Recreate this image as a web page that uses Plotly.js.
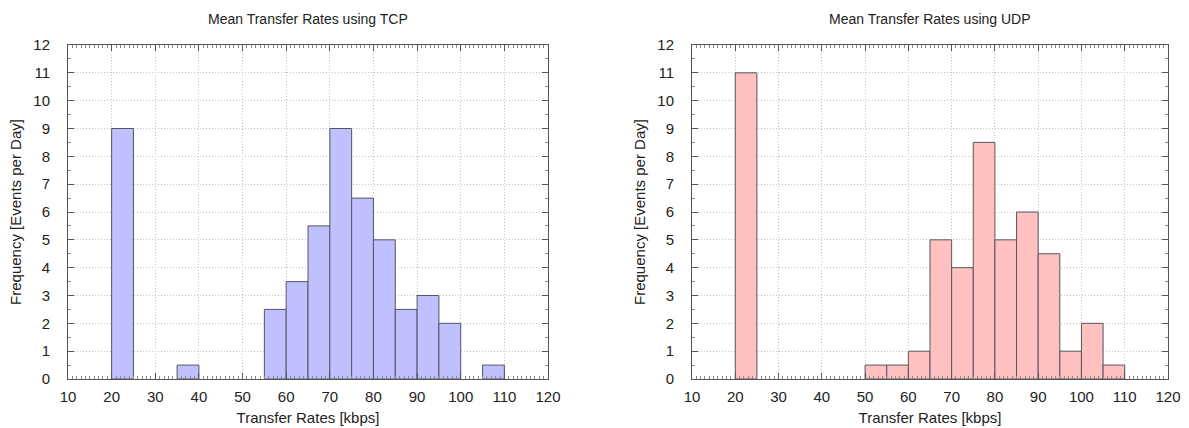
<!DOCTYPE html>
<html>
<head>
<meta charset="utf-8">
<script src="https://cdn.plot.ly/plotly-3.0.1.min.js"></script>
<style>html,body{margin:0;padding:0;background:#fff}#chart{width:1189px;height:428px}</style>
</head>
<body>
<div id="chart"></div>
<script>
// Histogram bin starts (kbps) and frequencies, bin width 5
const tcpBins = [20, 35, 55, 60, 65, 70, 75, 80, 85, 90, 95, 105];
const tcpFreq = [9, 0.5, 2.5, 3.5, 5.5, 9, 6.5, 5, 2.5, 3, 2, 0.5];
const udpBins = [20, 50, 55, 60, 65, 70, 75, 80, 85, 90, 95, 100, 105];
const udpFreq = [11, 0.5, 0.5, 1, 5, 4, 8.5, 5, 6, 4.5, 1, 2, 0.5];
const binWidth = 5;
const titles = ["Mean Transfer Rates using TCP", "Mean Transfer Rates using UDP"];
const xTitle = "Transfer Rates [kbps]";
const yTitle = "Frequency [Events per Day]";

const font = {family: "Liberation Sans, Arial, sans-serif", size: 15, color: "#222"};

function bars(bins, freq, fill, xa, ya) {
  return {
    type: "bar",
    x: bins,
    y: freq,
    width: bins.map(() => binWidth),
    offset: 0,
    xaxis: xa, yaxis: ya,
    marker: {color: fill, line: {color: "#555560", width: 1}},
    hoverinfo: "x+y",
    showlegend: false
  };
}

function xaxis(domain, anchor) {
  return {
    domain: domain, anchor: anchor,
    range: [10, 120], dtick: 10, tick0: 10,
    ticks: "inside", ticklen: 6, tickcolor: "#555",
    minor: {dtick: 1, ticks: "inside", ticklen: 3, tickcolor: "#888", showgrid: false},
    showline: true, linecolor: "#555", linewidth: 1, mirror: "allticks",
    showgrid: true, gridcolor: "#c4c4c4", griddash: "1px,2px", gridwidth: 1,
    zeroline: false,
    tickfont: font, ticklabelstandoff: 4,
    title: {text: xTitle, font: font, standoff: 8}
  };
}
function yaxis(domain, anchor) {
  return {
    domain: domain, anchor: anchor,
    range: [0, 12], dtick: 1, tick0: 0,
    ticks: "inside", ticklen: 6, tickcolor: "#555",
    minor: {dtick: 0.5, ticks: "inside", ticklen: 3, tickcolor: "#888", showgrid: false},
    showline: true, linecolor: "#555", linewidth: 1, mirror: "allticks",
    showgrid: true, gridcolor: "#c4c4c4", griddash: "1px,2px", gridwidth: 1,
    zeroline: false,
    tickfont: font, ticklabelstandoff: 14,
    title: {text: yTitle, font: font, standoff: 8}
  };
}

const yDom = [1 - 379/428, 1 - 45/428];
const data = [
  bars(tcpBins, tcpFreq, "#c0c0ff", "x", "y"),
  bars(udpBins, udpFreq, "#ffc0c0", "x2", "y2")
];
const titleFont = {family: font.family, size: 14, color: "#222"};
const layout = {
  width: 1189, height: 428,
  margin: {l: 0, r: 0, t: 0, b: 0},
  paper_bgcolor: "#fff", plot_bgcolor: "#fff",
  bargap: 0,
  xaxis: xaxis([68/1189, 548/1189], "y"),
  yaxis: yaxis(yDom, "x"),
  xaxis2: xaxis([692/1189, 1168/1189], "y2"),
  yaxis2: yaxis(yDom, "x2"),
  annotations: [
    {text: titles[0], xref: "paper", yref: "paper", x: (68+548)/2/1189, y: 1 - 19/428, yanchor: "middle", xanchor: "center", showarrow: false, font: titleFont},
    {text: titles[1], xref: "paper", yref: "paper", x: (692+1168)/2/1189, y: 1 - 19/428, yanchor: "middle", xanchor: "center", showarrow: false, font: titleFont}
  ]
};
Plotly.newPlot("chart", data, layout, {displayModeBar: false, staticPlot: true});
</script>
</body>
</html>
